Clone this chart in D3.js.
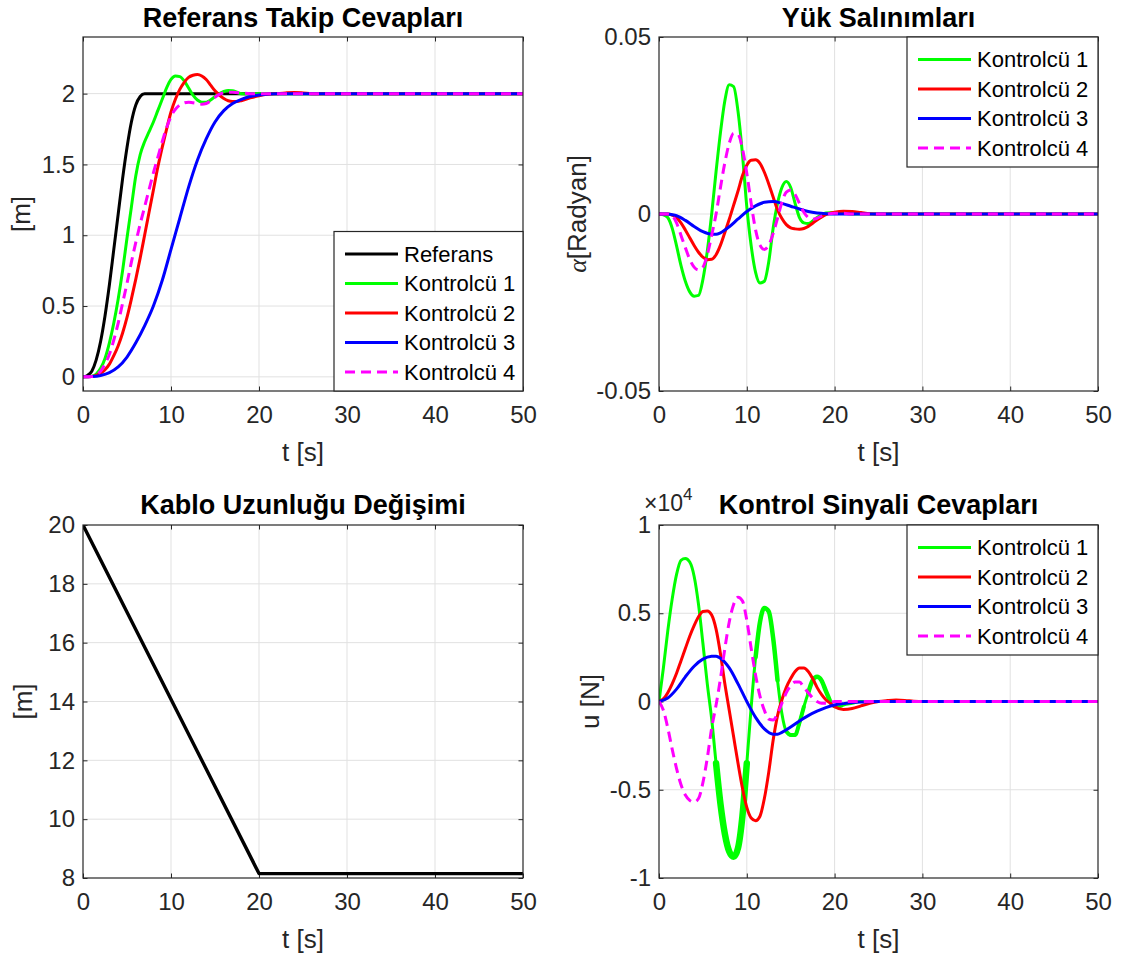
<!DOCTYPE html>
<html>
<head>
<meta charset="utf-8">
<script src="https://cdn.jsdelivr.net/npm/d3@7"></script>
<style>
  body { margin: 0; background: #fff; }
  text { font-family: "Liberation Sans", Arial, Helvetica, sans-serif; }
</style>
</head>
<body>
<svg id="fig" width="1123" height="961"></svg>
<script>
// ---------- time axis ----------
const timeTicks = [0, 10, 20, 30, 40, 50];
const timeTickLabels = ["0", "10", "20", "30", "40", "50"];

// ---------- reference tracking responses [t, position m] ----------
const trackRef = [[0,0],[0.5,0.01],[1,0.04],[1.5,0.12],[2,0.25],[2.5,0.43],[3,0.65],[3.5,0.9],[4,1.15],[4.5,1.4],[5,1.62],[5.5,1.8],[6,1.92],[6.5,1.98],[7,2],[50,2]];
const trackK1 = [[0,0],[1,0.005],[1.5,0.02],[2,0.06],[2.5,0.13],[3,0.24],[3.5,0.38],[4,0.55],[4.5,0.75],[5,0.98],[5.5,1.2],[6,1.42],[6.5,1.57],[7,1.66],[7.5,1.73],[8,1.8],[8.5,1.88],[9,1.96],[9.5,2.04],[10,2.1],[10.5,2.125],[11,2.12],[11.5,2.09],[12,2.04],[12.5,1.99],[13,1.955],[13.5,1.94],[14,1.94],[14.5,1.955],[15,1.98],[15.5,2.0],[16,2.015],[16.5,2.022],[17,2.02],[17.5,2.01],[18,2.0],[19,1.997],[20,2.0],[50,2]];
const trackK2 = [[0,0],[1,0.002],[1.5,0.01],[2,0.025],[2.5,0.05],[3,0.09],[3.5,0.15],[4,0.22],[4.5,0.31],[5,0.42],[5.5,0.55],[6,0.69],[6.5,0.84],[7,1.0],[7.5,1.16],[8,1.32],[8.5,1.48],[9,1.62],[9.5,1.75],[10,1.87],[10.5,1.96],[11,2.03],[11.5,2.08],[12,2.115],[12.5,2.13],[13,2.135],[13.5,2.125],[14,2.1],[14.5,2.06],[15,2.02],[15.5,1.99],[16,1.965],[16.5,1.95],[17,1.945],[17.5,1.945],[18,1.95],[19,1.97],[20,1.985],[21,1.995],[22,2.0],[23,2.005],[24,2.008],[25,2.005],[26,2.0],[50,2]];
const trackK3 = [[0,0],[1,0.002],[2,0.01],[3,0.03],[4,0.07],[5,0.14],[6,0.24],[7,0.36],[8,0.5],[9,0.68],[10,0.9],[11,1.12],[12,1.34],[13,1.53],[14,1.68],[15,1.8],[16,1.88],[17,1.93],[18,1.96],[19,1.98],[20,1.99],[22,2.0],[50,2]];
const trackK4 = [[0,0],[1,0.003],[1.5,0.015],[2,0.04],[2.5,0.09],[3,0.16],[3.5,0.26],[4,0.38],[4.5,0.52],[5,0.66],[5.5,0.81],[6,0.95],[6.5,1.08],[7,1.2],[7.5,1.32],[8,1.44],[8.5,1.55],[9,1.66],[9.5,1.76],[10,1.84],[10.5,1.89],[11,1.92],[11.5,1.935],[12,1.94],[12.5,1.935],[13,1.93],[13.5,1.925],[14,1.93],[14.5,1.95],[15,1.975],[15.5,1.995],[16,2.005],[17,2.01],[18,2.005],[19,2.0],[50,2]];
const trackTicks = [0, 0.5, 1, 1.5, 2];
const trackTickLabels = ["0", "0.5", "1", "1.5", "2"];

// ---------- load swing angle [t, rad] ----------
const swingK1 = [[0,0],[0.5,-0.0002],[1,-0.001],[1.5,-0.004],[2,-0.009],[2.5,-0.0145],[3,-0.019],[3.5,-0.022],[4,-0.0232],[4.5,-0.023],[5,-0.0185],[5.5,-0.0105],[6,0.0],[6.5,0.012],[7,0.023],[7.5,0.032],[8,0.0365],[8.5,0.036],[9,0.029],[9.5,0.017],[10,0.002],[10.5,-0.009],[11,-0.0165],[11.5,-0.0195],[12,-0.019],[12.5,-0.0135],[13,-0.004],[13.5,0.003],[14,0.0075],[14.5,0.0092],[15,0.0075],[15.5,0.003],[16,-0.001],[16.5,-0.0025],[17,-0.0027],[17.5,-0.002],[18,-0.001],[18.5,-0.0002],[19,0.0003],[20,0.0004],[21,0.0002],[22,0],[50,0]];
const swingK2 = [[0,0],[1,0],[1.5,-0.0003],[2,-0.001],[2.5,-0.0025],[3,-0.0045],[3.5,-0.0067],[4,-0.0089],[4.5,-0.0108],[5,-0.0122],[5.5,-0.0129],[6,-0.0128],[6.5,-0.0115],[7,-0.0088],[7.5,-0.0052],[8,-0.0015],[8.5,0.0025],[9,0.0065],[9.5,0.0108],[10,0.0138],[10.5,0.0152],[11,0.0153],[11.5,0.0143],[12,0.0118],[12.5,0.0085],[13,0.0048],[13.5,0.0012],[14,-0.0013],[14.5,-0.003],[15,-0.0039],[15.5,-0.0042],[16,-0.0043],[16.5,-0.0041],[17,-0.0035],[17.5,-0.0026],[18,-0.0017],[18.5,-0.0009],[19,-0.0002],[19.5,0.0002],[20,0.0005],[21,0.0008],[22,0.0007],[23,0.0004],[24,0.0001],[25,0],[50,0]];
const swingK3 = [[0,0],[1,0],[1.5,-0.0002],[2,-0.0005],[3,-0.0018],[4,-0.0035],[5,-0.005],[6,-0.0057],[6.5,-0.0057],[7,-0.0053],[8,-0.0036],[9,-0.0014],[10,0.0007],[11,0.0023],[12,0.0033],[13,0.0035],[14,0.003],[15,0.0022],[16,0.0014],[17,0.0007],[18,0.0003],[19,0.0001],[20,0],[50,0]];
const swingK4 = [[0,0],[1,0],[1.5,-0.0005],[2,-0.0025],[2.5,-0.006],[3,-0.0095],[3.5,-0.0128],[4,-0.015],[4.5,-0.0158],[5,-0.015],[5.5,-0.0115],[6,-0.006],[6.5,0.0],[7,0.0075],[7.5,0.0145],[8,0.02],[8.5,0.0228],[9,0.0225],[9.5,0.0185],[10,0.0115],[10.5,0.003],[11,-0.0045],[11.5,-0.0088],[12,-0.01],[12.5,-0.0088],[13,-0.0055],[13.5,-0.0012],[14,0.0033],[14.5,0.0062],[15,0.0068],[15.5,0.0055],[16,0.003],[16.5,0.0005],[17,-0.001],[17.5,-0.0015],[18,-0.0012],[18.5,-0.0006],[19,-0.0001],[20,0.0002],[21,0.0002],[22,0],[50,0]];
const swingTicks = [-0.05, 0, 0.05];
const swingTickLabels = ["-0.05", "0", "0.05"];

// ---------- cable length [t, m] ----------
const cableLength = [[0,20],[20,8.15],[50,8.15]];
const cableTicks = [8, 10, 12, 14, 16, 18, 20];
const cableTickLabels = ["8", "10", "12", "14", "16", "18", "20"];

// ---------- control signal [t, N x 10^4] ----------
const ctrlK1 = [[0,0],[0.5,0.19],[1,0.4],[1.5,0.58],[2,0.72],[2.5,0.8],[3,0.81],[3.5,0.79],[4,0.71],[4.5,0.55],[5,0.33],[5.5,0.1],[6,-0.1],[6.5,-0.35],[7,-0.58],[7.5,-0.75],[8,-0.85],[8.5,-0.88],[9,-0.83],[9.5,-0.65],[10,-0.35],[10.5,-0.03],[11,0.25],[11.5,0.45],[12,0.53],[12.5,0.51],[13,0.36],[13.5,0.12],[14,-0.07],[14.5,-0.17],[15,-0.19],[15.5,-0.19],[16,-0.12],[16.5,-0.03],[17,0.05],[17.5,0.12],[18,0.14],[18.5,0.12],[19,0.06],[19.5,0.0],[20,-0.03],[20.5,-0.03],[21,-0.02],[22,-0.01],[23,0],[50,0]];
const ctrlK2 = [[0,0],[0.5,0.015],[1,0.05],[1.5,0.1],[2,0.16],[2.5,0.23],[3,0.3],[3.5,0.37],[4,0.43],[4.5,0.48],[5,0.51],[5.5,0.513],[6,0.49],[6.5,0.41],[7,0.27],[7.5,0.1],[8,-0.05],[8.5,-0.2],[9,-0.35],[9.5,-0.49],[10,-0.6],[10.5,-0.66],[11,-0.675],[11.5,-0.65],[12,-0.55],[12.5,-0.4],[13,-0.22],[13.5,-0.08],[14,0.01],[14.5,0.08],[15,0.13],[15.5,0.17],[16,0.19],[16.5,0.19],[17,0.17],[17.5,0.13],[18,0.08],[18.5,0.04],[19,0.01],[19.5,-0.01],[20,-0.03],[21,-0.045],[22,-0.04],[23,-0.025],[24,-0.01],[25,0],[26,0.005],[27,0.008],[28,0.006],[29,0.002],[30,0],[50,0]];
const ctrlK3 = [[0,0],[1,0.02],[2,0.07],[3,0.14],[4,0.2],[5,0.24],[6,0.256],[6.5,0.257],[7,0.245],[8,0.19],[9,0.1],[10,0.0],[11,-0.09],[12,-0.155],[13,-0.185],[13.5,-0.185],[14,-0.175],[15,-0.145],[16,-0.11],[17,-0.08],[18,-0.055],[19,-0.035],[20,-0.02],[21,-0.012],[22,-0.006],[23,-0.003],[24,-0.001],[25,0],[50,0]];
const ctrlK4 = [[0,0],[0.5,-0.05],[1,-0.15],[1.5,-0.27],[2,-0.38],[2.5,-0.47],[3,-0.53],[3.5,-0.56],[4,-0.57],[4.5,-0.55],[5,-0.46],[5.5,-0.32],[6,-0.15],[6.5,-0.02],[7,0.13],[7.5,0.3],[8,0.45],[8.5,0.55],[9,0.59],[9.5,0.57],[10,0.46],[10.5,0.3],[11,0.15],[11.5,0.03],[12,-0.05],[12.5,-0.1],[13,-0.105],[13.5,-0.07],[14,-0.01],[14.5,0.05],[15,0.09],[15.5,0.11],[16,0.11],[16.5,0.08],[17,0.05],[17.5,0.02],[18,0.0],[18.5,-0.01],[19,-0.01],[19.5,-0.005],[20,0],[50,0]];
const ctrlTicks = [-1, -0.5, 0, 0.5, 1];
const ctrlTickLabels = ["-1", "-0.5", "0", "0.5", "1"];

// time windows where controller 1's signal chatters (drawn as a thicker band)
const chatterWindows = [[6.5, 10, 6.5], [11, 13.5, 4.5], [14.5, 16.5, 4], [17, 19.5, 4.5]];

// ---------- styling ----------
const COL = { ref: "#000000", k1: "#00ff00", k2: "#ff0000", k3: "#0000ff", k4: "#ff00ff" };
const AX = "#262626", GRID = "#e1e1e1";
const FS_TICK = 24, FS_LABEL = 26, FS_TITLE = 27, FS_LEG = 22;

const svg = d3.select("#fig");

const panels = [
  {
    box: [83, 523, 37, 391], yDomain: [-0.1, 2.4], yTicks: trackTicks, yTickLabels: trackTickLabels,
    title: "Referans Takip Cevapları", ylabel: "[m]", ylabelX: 21, titleY: 27, xlabelY: 461,
    series: [
      { data: trackRef, color: COL.ref, name: "Referans" },
      { data: trackK1, color: COL.k1, name: "Kontrolcü 1" },
      { data: trackK2, color: COL.k2, name: "Kontrolcü 2" },
      { data: trackK3, color: COL.k3, name: "Kontrolcü 3" },
      { data: trackK4, color: COL.k4, name: "Kontrolcü 4", dash: true }
    ],
    legend: { x: 334, y: 231, w: 189, anchorBottom: true }
  },
  {
    box: [659, 1098, 37, 391], yDomain: [-0.05, 0.05], yTicks: swingTicks, yTickLabels: swingTickLabels,
    title: "Yük Salınımları", ylabelAlpha: true, ylabelX: 577, titleY: 27, xlabelY: 461,
    series: [
      { data: swingK1, color: COL.k1, name: "Kontrolcü 1" },
      { data: swingK2, color: COL.k2, name: "Kontrolcü 2" },
      { data: swingK3, color: COL.k3, name: "Kontrolcü 3" },
      { data: swingK4, color: COL.k4, name: "Kontrolcü 4", dash: true }
    ],
    legend: { x: 907, y: 37, w: 191 }
  },
  {
    box: [83, 523, 525, 878], yDomain: [8, 20], yTicks: cableTicks, yTickLabels: cableTickLabels,
    title: "Kablo Uzunluğu Değişimi", ylabel: "[m]", ylabelX: 23, titleY: 514, xlabelY: 948,
    series: [ { data: cableLength, color: COL.ref, straight: true, width: 3.4 } ]
  },
  {
    box: [659, 1098, 525, 878], yDomain: [-1, 1], yTicks: ctrlTicks, yTickLabels: ctrlTickLabels,
    title: "Kontrol Sinyali Cevapları", ylabel: "u [N]", ylabelX: 590, titleY: 514, xlabelY: 948,
    exponent: true,
    series: [
      { data: ctrlK1, color: COL.k1, name: "Kontrolcü 1", chatter: chatterWindows },
      { data: ctrlK2, color: COL.k2, name: "Kontrolcü 2" },
      { data: ctrlK3, color: COL.k3, name: "Kontrolcü 3" },
      { data: ctrlK4, color: COL.k4, name: "Kontrolcü 4", dash: true }
    ],
    legend: { x: 907, y: 525, w: 191 }
  }
];

panels.forEach((p, i) => {
  const [x0, x1, y0, y1] = p.box;
  const x = d3.scaleLinear().domain([0, 50]).range([x0, x1]);
  const y = d3.scaleLinear().domain(p.yDomain).range([y1, y0]);
  const g = svg.append("g");

  // plot background
  g.append("rect").attr("x", x0).attr("y", y0).attr("width", x1 - x0).attr("height", y1 - y0).attr("fill", "#fff");

  // grid
  g.append("g").selectAll("line").data(timeTicks.filter(t => t > 0 && t < 50)).join("line")
    .attr("x1", d => x(d)).attr("x2", d => x(d)).attr("y1", y0).attr("y2", y1)
    .attr("stroke", GRID).attr("stroke-width", 1);
  g.append("g").selectAll("line").data(p.yTicks.filter(v => v > p.yDomain[0] && v < p.yDomain[1])).join("line")
    .attr("x1", x0).attr("x2", x1).attr("y1", d => y(d)).attr("y2", d => y(d))
    .attr("stroke", GRID).attr("stroke-width", 1);

  // axes with inward ticks on all four sides
  const tl = 4.5;
  const fmtX = d => timeTickLabels[timeTicks.indexOf(d)];
  const fmtY = d => p.yTickLabels[p.yTicks.indexOf(d)];
  const axB = g.append("g").attr("transform", `translate(0,${y1})`)
    .call(d3.axisBottom(x).tickValues(timeTicks).tickFormat(fmtX).tickSize(-tl).tickPadding(15));
  const axT = g.append("g").attr("transform", `translate(0,${y0})`)
    .call(d3.axisTop(x).tickValues(timeTicks).tickFormat("").tickSize(-tl));
  const axL = g.append("g").attr("transform", `translate(${x0},0)`)
    .call(d3.axisLeft(y).tickValues(p.yTicks).tickFormat(fmtY).tickSize(-tl).tickPadding(8));
  const axR = g.append("g").attr("transform", `translate(${x1},0)`)
    .call(d3.axisRight(y).tickValues(p.yTicks).tickFormat("").tickSize(-tl));
  [axB, axT, axL, axR].forEach(a => {
    a.select(".domain").remove();
    a.selectAll(".tick line").attr("stroke", AX).attr("stroke-width", 1);
    a.selectAll(".tick text").attr("fill", AX).attr("font-size", FS_TICK)
      .attr("font-family", "'Liberation Sans', Arial, sans-serif");
  });
  axB.selectAll(".tick text").attr("dy", "0.71em");

  // series
  const clipId = "clip" + i;
  svg.append("clipPath").attr("id", clipId).append("rect")
    .attr("x", x0).attr("y", y0).attr("width", x1 - x0).attr("height", y1 - y0);
  const plot = g.append("g").attr("clip-path", `url(#${clipId})`);
  const smooth = d3.line().x(d => x(d[0])).y(d => y(d[1])).curve(d3.curveMonotoneX);
  const straight = d3.line().x(d => x(d[0])).y(d => y(d[1]));
  p.series.forEach(s => {
    const line = s.straight ? straight : smooth;
    plot.append("path").attr("d", line(s.data)).attr("fill", "none")
      .attr("stroke", s.color).attr("stroke-width", s.width || 3)
      .attr("stroke-linejoin", "round")
      .attr("stroke-dasharray", s.dash ? "10,6" : null);
    if (s.chatter) {
      s.chatter.forEach(([a, b, w]) => {
        const seg = s.data.filter(d => d[0] >= a && d[0] <= b);
        plot.append("path").attr("d", line(seg)).attr("fill", "none")
          .attr("stroke", s.color).attr("stroke-width", w)
          .attr("stroke-linejoin", "round").attr("stroke-linecap", "round");
      });
    }
  });

  // axes box
  g.append("rect").attr("x", x0).attr("y", y0).attr("width", x1 - x0).attr("height", y1 - y0)
    .attr("fill", "none").attr("stroke", AX).attr("stroke-width", 1.2);

  // title
  g.append("text").attr("x", (x0 + x1) / 2).attr("y", p.titleY).attr("text-anchor", "middle")
    .attr("font-size", FS_TITLE).attr("font-weight", "bold").attr("fill", "#000").text(p.title);

  // x label
  g.append("text").attr("x", (x0 + x1) / 2).attr("y", p.xlabelY).attr("text-anchor", "middle")
    .attr("font-size", FS_LABEL).attr("fill", AX).text("t [s]");

  // y label
  const yl = g.append("text").attr("transform", `translate(${p.ylabelX},${(y0 + y1) / 2}) rotate(-90)`)
    .attr("text-anchor", "middle").attr("dy", "0.35em").attr("font-size", FS_LABEL).attr("fill", AX);
  if (p.ylabelAlpha) {
    yl.append("tspan").attr("font-family", "'Liberation Serif', 'Times New Roman', serif")
      .attr("font-style", "italic").text("α");
    yl.append("tspan").text("[Radyan]");
  } else {
    yl.text(p.ylabel);
  }

  // exponent marker
  if (p.exponent) {
    const ex = g.append("text").attr("x", x0 - 15).attr("y", y0 - 14).attr("font-size", 23).attr("fill", AX);
    ex.append("tspan").text("×10");
    ex.append("tspan").attr("dy", -11).attr("font-size", 17).text("4");
  }

  // legend
  if (p.legend) {
    const L = p.legend, n = p.series.length;
    const padTop = 22.5, step = 29.5, padBot = 19;
    const h = padTop + (n - 1) * step + padBot;
    const ly = L.anchorBottom ? y1 - h : L.y;
    const lg = g.append("g");
    lg.append("rect").attr("x", L.x).attr("y", ly).attr("width", L.w).attr("height", h)
      .attr("fill", "#fff").attr("stroke", AX).attr("stroke-width", 1.2);
    p.series.forEach((s, k) => {
      const cy = ly + padTop + k * step;
      lg.append("line").attr("x1", L.x + 11).attr("x2", L.x + 64).attr("y1", cy).attr("y2", cy)
        .attr("stroke", s.color).attr("stroke-width", 3)
        .attr("stroke-dasharray", s.dash ? "10,6" : null);
      lg.append("text").attr("x", L.x + 70).attr("y", cy).attr("dy", "0.35em")
        .attr("font-size", FS_LEG).attr("fill", "#000").text(s.name);
    });
  }
});
</script>
</body>
</html>
